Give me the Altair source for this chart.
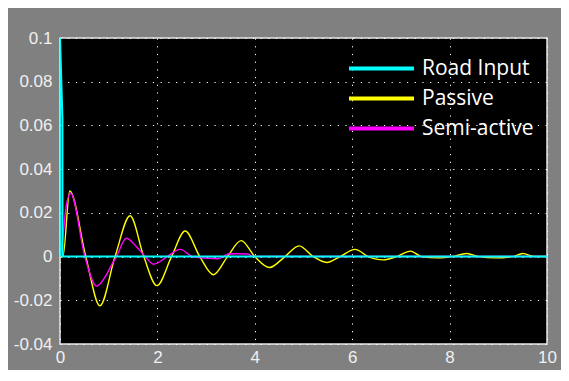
import altair as alt
import pandas as pd

# ---- data ----
road_t = [0.0, 0.0, 0.05, 0.05, 10.0]
road_v = [0.0, 0.1, 0.063, 0.0, 0.0]

passive_t = [0.0, 0.06, 0.2, 0.53, 0.82, 1.13, 1.44, 1.72, 1.99, 2.29, 2.57, 2.87,
             3.15, 3.44, 3.72, 4.0, 4.3, 4.62, 4.91, 5.2, 5.48, 5.75, 6.06, 6.33,
             6.64, 6.91, 7.2, 7.42, 7.77, 8.05, 8.35, 8.6, 8.95, 9.3, 9.5, 9.75, 10.0]
passive_v = [0.0, 0.0, 0.030, 0.0, -0.0225, 0.0, 0.0187, 0.0, -0.0133, 0.0, 0.0117, 0.0,
             -0.0083, 0.0, 0.0073, 0.0, -0.0050, 0.0, 0.0049, 0.0, -0.0027, 0.0, 0.0033, 0.0,
             -0.0015, 0.0, 0.0025, 0.0, -0.0006, 0.0, 0.0014, 0.0, -0.0006, 0.0, 0.0014, 0.0, 0.0]

semi_t = [0.0, 0.03, 0.06, 0.12, 0.22, 0.51, 0.75, 0.96, 1.06, 1.16, 1.36, 1.57, 1.75,
          1.92, 2.2, 2.47, 2.72, 3.05, 3.25, 3.35, 3.45, 3.65, 3.86, 3.95, 10.0]
semi_v = [0.0, 0.004, 0.009, 0.022, 0.029, 0.0, -0.0135, -0.008, -0.0038, 0.0, 0.0084, 0.0045, 0.0,
          -0.0035, 0.0, 0.0033, 0.0, -0.0008, -0.0010, 0.0, 0.0012, 0.0013, 0.0012, 0.0, 0.0]

series_names = ["Road Input", "Passive", "Semi-active"]
series_colors = ["#00ffff", "#ffff00", "#ff00ff"]

x_ticks = [0, 2, 4, 6, 8, 10]
y_ticks = [-0.04, -0.02, 0, 0.02, 0.04, 0.06, 0.08, 0.1]

df_road = pd.DataFrame({"t": road_t, "v": road_v, "series": series_names[0]})
df_pass = pd.DataFrame({"t": passive_t, "v": passive_v, "series": series_names[1]})
df_semi = pd.DataFrame({"t": semi_t, "v": semi_v, "series": series_names[2]})

color = alt.Color(
    "series:N",
    scale=alt.Scale(domain=series_names, range=series_colors),
    legend=alt.Legend(
        title=None, orient="none", legendX=287, legendY=16,
        symbolType="stroke", symbolSize=4225, symbolStrokeWidth=4,
        clipHeight=29, rowPadding=1, padding=0,
        labelFontSize=21, labelFont="Open Sans", labelColor="#ffffff",
        labelOffset=6, labelLimit=300,
    ),
)

x = alt.X("t:Q", scale=alt.Scale(domain=[0, 10], nice=False),
          axis=alt.Axis(values=x_ticks, title=None, labelFlush=False, labelPadding=5,
                        format="d"))
y = alt.Y("v:Q", scale=alt.Scale(domain=[-0.04, 0.1], nice=False, zero=False),
          axis=alt.Axis(values=y_ticks, title=None, labelPadding=8,
                        labelExpr="replace(format(datum.value, '~g'), '\u2212', '-')"))


def line(df, w):
    return alt.Chart(df).mark_line(strokeWidth=w, interpolate="monotone", clip=True).encode(
        x=x, y=y, color=color)


chart = alt.layer(
    line(df_pass, 1.4),
    line(df_semi, 1.4),
    alt.Chart(df_road).mark_line(strokeWidth=2, clip=True).encode(x=x, y=y, color=color),
).properties(
    width=487, height=306,
    autosize=alt.AutoSizeParams(type="none"),
    padding={"left": 52, "top": 30, "right": 14, "bottom": 26},
    background="#808080",
).configure_view(
    fill="#000000", stroke="#e8e8e8", strokeWidth=1.5,
).configure_axis(
    grid=True, gridColor="#ffffff", gridDash=[1.2, 6.5], gridOpacity=1, gridWidth=1,
    domain=False, ticks=False,
    labelColor="#f0f0f0", labelFont="Liberation Sans", labelFontSize=17,
)

chart.save("out.html", embed_options={"renderer": "svg", "actions": False})
